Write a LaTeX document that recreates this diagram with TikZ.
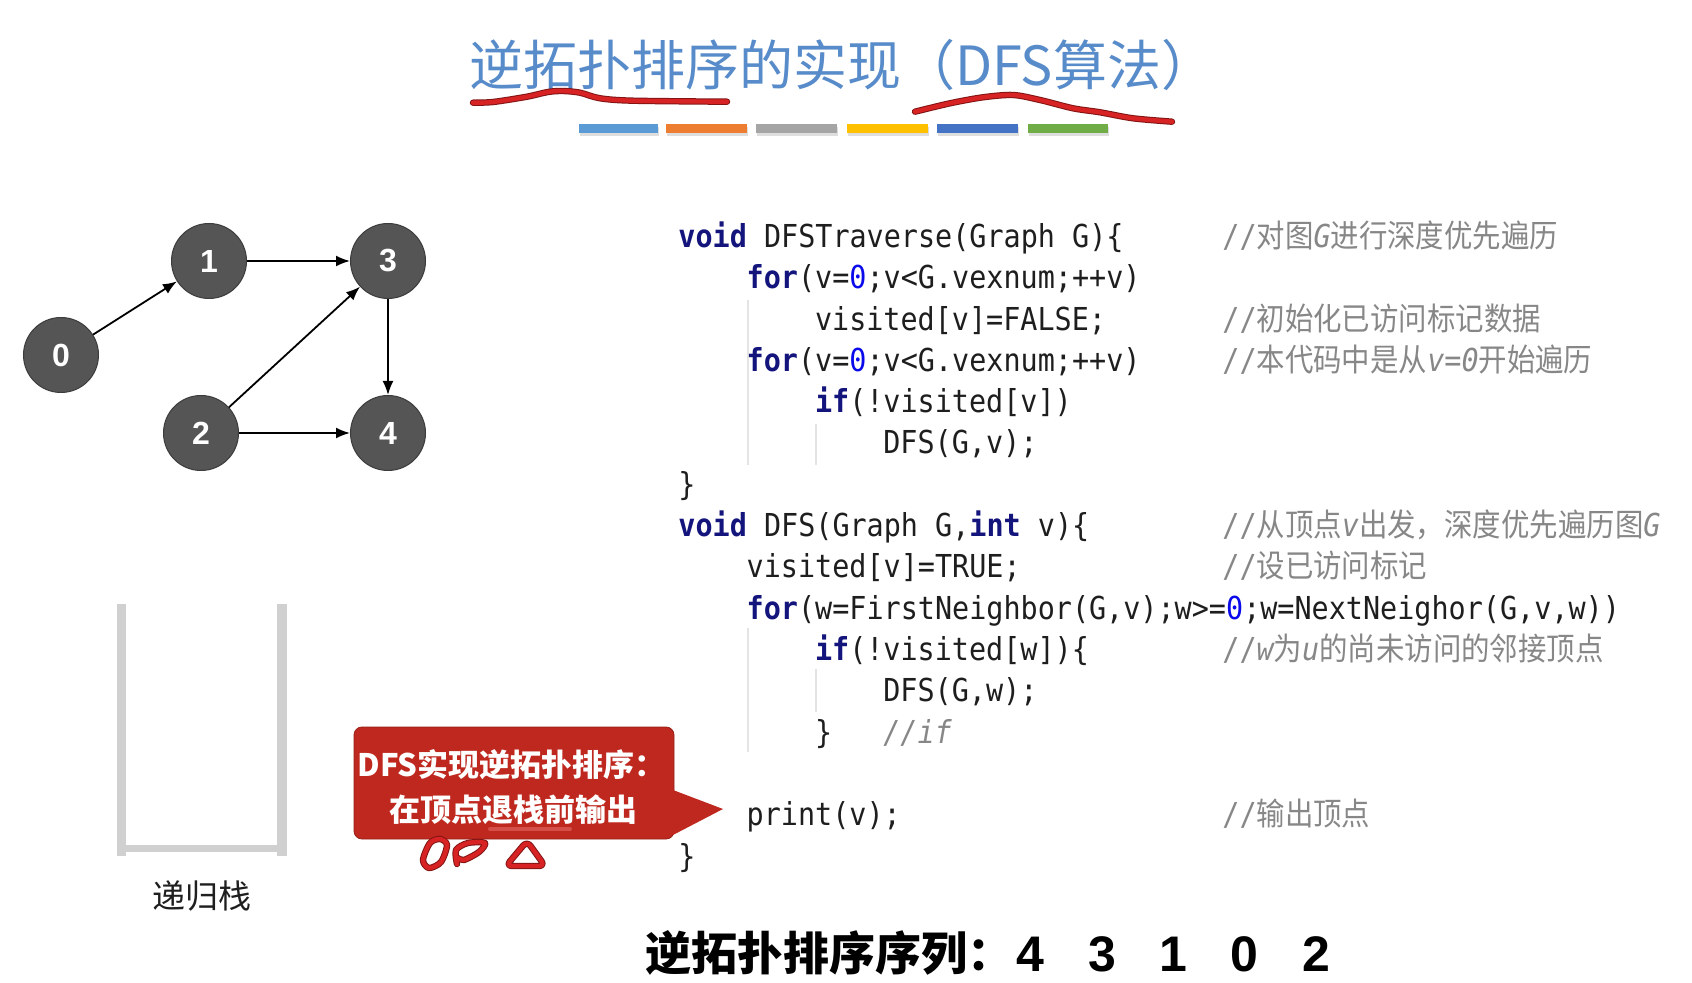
\documentclass[tikz,border=0pt]{standalone}
\usepackage{fontspec}
\usetikzlibrary{arrows.meta}
\newfontfamily\cjk{Noto Sans CJK SC}
\newfontfamily\cmtcjk[FakeStretch=0.9]{Noto Sans CJK SC}
\newfontfamily\codefont[FakeStretch=0.9]{DejaVu Sans Mono}
\newfontfamily\numfont{Liberation Sans}
\definecolor{titleblue}{RGB}{87,139,201}
\definecolor{nodegray}{RGB}{85,85,85}
\definecolor{nodeborder}{RGB}{60,60,60}
\definecolor{codetext}{RGB}{30,30,30}
\definecolor{kwc}{RGB}{20,20,125}
\definecolor{numc}{RGB}{10,10,235}
\definecolor{cmtgray}{RGB}{135,135,135}
\definecolor{guidegray}{RGB}{228,228,228}
\definecolor{stackgray}{RGB}{208,208,208}
\definecolor{calloutred}{RGB}{190,40,30}
\definecolor{scribred}{RGB}{215,35,35}
\definecolor{scribdark}{RGB}{130,20,20}
\definecolor{barA}{RGB}{91,155,213}
\definecolor{barB}{RGB}{237,125,49}
\definecolor{barC}{RGB}{165,165,165}
\definecolor{barD}{RGB}{255,192,0}
\definecolor{barE}{RGB}{68,114,196}
\definecolor{barF}{RGB}{112,173,71}
\newcommand\kw[1]{{\bfseries\color{kwc}#1}}
\newcommand\nm[1]{{\color{numc}#1}}
\newcommand\cl[1]{{\codefont\itshape #1}}
\newcommand\cc[1]{{\cmtcjk #1}}
\begin{document}
\begin{tikzpicture}[x=0.5pt,y=-0.5pt,
  vert/.style={circle, fill=nodegray, draw=nodeborder, line width=0.5pt,
    minimum size=37.5pt, inner sep=0pt, text=white,
    font=\numfont\bfseries\fontsize{16}{16}\selectfont},
  edge/.style={-{Latex[length=7pt,width=5.5pt]}, line width=0.9pt, black},
  codeline/.style={anchor=base west, inner sep=0pt, text=codetext,
    font=\codefont\fontsize{15.8}{18}\selectfont},
  cmt/.style={anchor=base west, inner sep=0pt, text=cmtgray,
    font=\codefont\fontsize{15.8}{18}\selectfont},
  guide/.style={draw=guidegray, line width=0.7pt},
  stackbar/.style={fill=stackgray},
  scrib/.style={line width=3.2pt, line cap=round, line join=round, draw=scribdark},
  scribin/.style={line width=2.2pt, line cap=round, line join=round, draw=scribred},
]
\useasboundingbox[fill=white] (0,0) rectangle (1692,983);

% title
\node[anchor=base, inner sep=0pt, text=titleblue, font=\cjk\fontsize{27}{30}\selectfont]
  (title) at (842,86) {逆拓扑排序的实现（DFS算法）};

% colour bars
\foreach \xa/\xb/\c in {579/658/barA,666/747/barB,756/837/barC,847/928/barD,937/1018/barE,1028/1108/barF}{
  \fill[black!25, opacity=0.5] (\xa+1,127) rectangle (\xb+1,136);
  \fill[\c] (\xa,124) rectangle (\xb,133);
}

% red underlines on title
\foreach \s in {scrib,scribin}{
  \draw[\s] plot[smooth] coordinates {(473,102.7) (493,102) (527,96.7) (548,92) (563,91) (580,92.7) (600,98.3) (633,100.7) (727,101.7)};
  \draw[\s] plot[smooth] coordinates {(915,111.7) (950,103.3) (983,97.3) (1013,95) (1040,100) (1073,108.3) (1100,112.3) (1133,118.3) (1172,121.7)};
}

% graph
\node[vert] (n0) at (61,355) {0};
\node[vert] (n1) at (209,261) {1};
\node[vert] (n2) at (201,433) {2};
\node[vert] (n3) at (388,261) {3};
\node[vert] (n4) at (388,433) {4};
\draw[edge] (n0) -- (n1);
\draw[edge] (n1) -- (n3);
\draw[edge] (n2) -- (n3);
\draw[edge] (n2) -- (n4);
\draw[edge] (n3) -- (n4);

% recursion stack
\fill[stackbar] (116.5,604) rectangle (126,856);
\fill[stackbar] (277,604) rectangle (287,856);
\fill[stackbar] (126,845) rectangle (277,852);
\node[anchor=base, inner sep=0pt, text=black!88, font=\cjk\fontsize{16.5}{20}\selectfont]
  (stacklabel) at (202,908) {递归栈};

% indent guides
\draw[guide] (748,300) -- (748,465);
\draw[guide] (816,424) -- (816,465);
\draw[guide] (748,628) -- (748,752);
\draw[guide] (816,669) -- (816,712);

% code
\node[codeline] (l0) at (678,247.5) {\kw{void} DFSTraverse(Graph G)\{};
\node[codeline] (l1) at (746.3,288.8) {\kw{for}(v=\nm{0};v<G.vexnum;++v)};
\node[codeline] (l2) at (814.6,330.1) {visited[v]=FALSE;};
\node[codeline] (l3) at (746.3,371.4) {\kw{for}(v=\nm{0};v<G.vexnum;++v)};
\node[codeline] (l4) at (814.6,412.7) {\kw{if}(!visited[v])};
\node[codeline] (l5) at (882.9,454.0) {DFS(G,v);};
\node[codeline] (l6) at (678,495.3) {\}};
\node[codeline] (l7) at (678,536.6) {\kw{void} DFS(Graph G,\kw{int} v)\{};
\node[codeline] (l8) at (746.3,577.9) {visited[v]=TRUE;};
\node[codeline] (l9) at (746.3,619.2) {\kw{for}(w=FirstNeighbor(G,v);w>=\nm{0};w=NextNeighor(G,v,w))};
\node[codeline] (l10) at (814.6,660.5) {\kw{if}(!visited[w])\{};
\node[codeline] (l11) at (882.9,701.8) {DFS(G,w);};
\node[codeline] (l12) at (814.6,743.1) {\}};
\node[codeline] (l14) at (746.3,825.7) {print(v);};
\node[codeline] (l15) at (678,867.0) {\}};

% comments
\node[cmt] (c0) at (1222,247.5) {//\cc{对图}\cl{G}\cc{进行深度优先遍历}};
\node[cmt] (c2) at (1222,330.1) {//\cc{初始化已访问标记数据}};
\node[cmt] (c3) at (1222,371.4) {//\cc{本代码中是从}\cl{v=0}\cc{开始遍历}};
\node[cmt] (c7) at (1222,536.6) {//\cc{从顶点}\cl{v}\cc{出发，深度优先遍历图}\cl{G}};
\node[cmt] (c8) at (1222,577.9) {//\cc{设已访问标记}};
\node[cmt] (c10) at (1222,660.5) {//\cl{w}\cc{为}\cl{u}\cc{的尚未访问的邻接顶点}};
\node[cmt] (c12) at (882.9,743.1) {\cl{//if}};
\node[cmt] (c14) at (1222,825.7) {//\cc{输出顶点}};

% callout
\node[fill=calloutred, draw=calloutred!80!black, line width=0.4pt, rounded corners=4pt,
  minimum width=160pt, minimum height=56pt, inner sep=0pt] (callout) at (514,783) {};
\coordinate (pa) at (673,790);
\coordinate (pb) at (673,835);
\coordinate (ptip) at (723,809);
\fill[calloutred] (pa) -- (ptip) -- (pb) -- cycle;
\draw[red!40, opacity=0.35, line width=2pt, line cap=round] (490,829) -- (570,829);
\node[anchor=base west, inner sep=0pt, text=white, font=\cjk\bfseries\fontsize{15.5}{18}\selectfont]
  (ct1) at (357,776.6) {DFS实现逆拓扑排序：};
\node[anchor=base west, inner sep=0pt, text=white, font=\cjk\bfseries\fontsize{15.5}{18}\selectfont]
  (ct2) at (389,821.6) {在顶点退栈前输出};

% red scribbles below callout
\foreach \s in {scrib,scribin}{
  \draw[\s] plot[smooth cycle] coordinates {(440,839) (447,845) (441,862) (429,868) (423,860) (430,843)};
  \draw[\s] plot[smooth] coordinates {(457,864) (456,850) (468,843) (485,843) (479,852) (464,860) (458,858)};
  \draw[\s, rounded corners=3pt] (527,841) -- (545,866) -- (506,866) -- cycle;
}

% result sequence
\node[anchor=base west, inner sep=0pt, text=black, font=\cjk\bfseries\fontsize{23}{26}\selectfont]
  (seqlabel) at (645,970.5) {逆拓扑排序序列：};
\foreach \d/\xx in {4/1030,3/1102,1/1173,0/1244,2/1316}{
  \node[anchor=base, inner sep=0pt, text=black, font=\numfont\bfseries\fontsize{25}{28}\selectfont]
    (s\d) at (\xx,971.5) {\d};
}
\end{tikzpicture}
\end{document}
